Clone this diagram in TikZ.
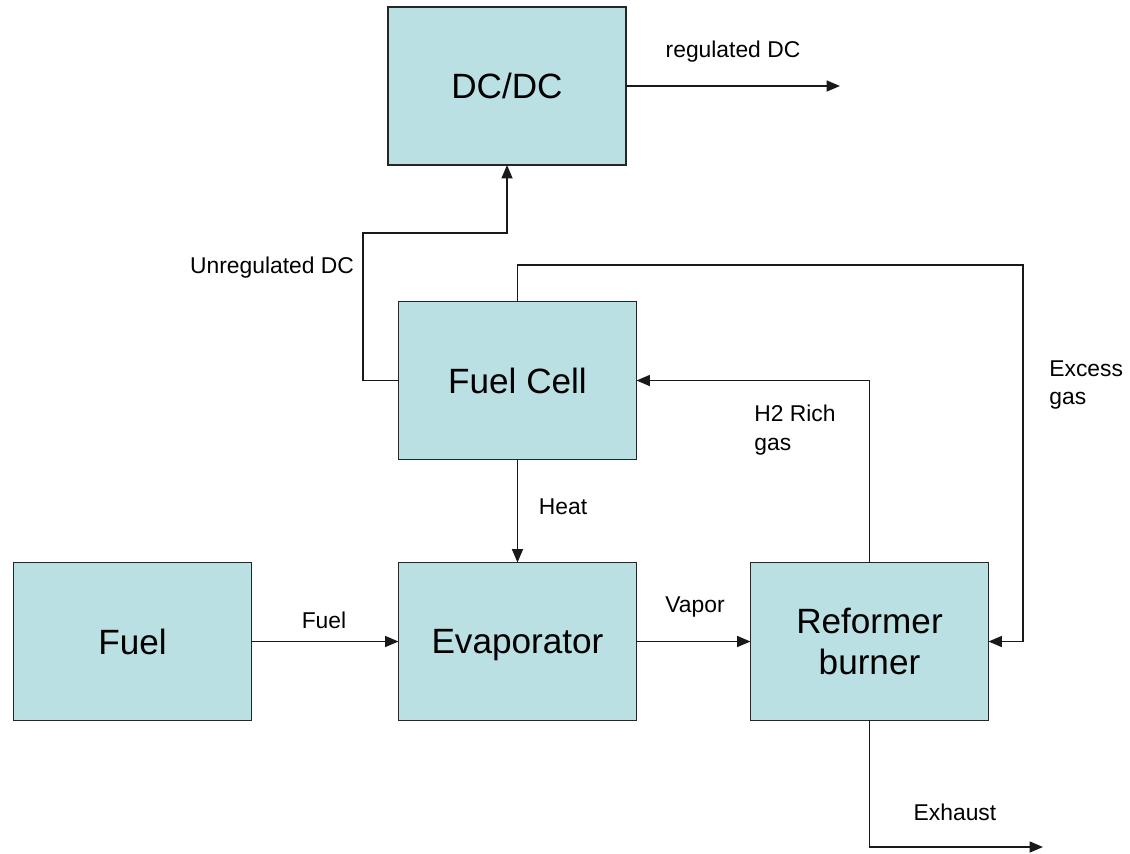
\documentclass[tikz,border=0pt]{standalone}
\usepackage{fontspec}
\setmainfont{Liberation Sans}
\usetikzlibrary{arrows.meta}
\definecolor{boxfill}{HTML}{BAE0E3}
\begin{document}
\begin{tikzpicture}[x=0.02cm,y=-0.02cm,
  block/.style={draw=black!85,fill=boxfill,line width=1pt,minimum width=4.76cm,minimum height=3.16cm,inner sep=0pt,outer sep=0pt,font=\fontsize{20}{24}\selectfont,align=center},
  conn/.style={draw=black!90,line width=1pt},
  arr/.style={conn,-{Triangle[length=0.27cm,width=0.22cm]}},
  lbl/.style={font=\fontsize{13}{16.4}\selectfont,inner sep=0pt,align=left}]
\useasboundingbox (0,0) rectangle (1130,853);
\node[block] (dcdc) at (507,86) {DC/DC};
\node[block] (fc) at (517.5,380.5) {Fuel Cell};
\node[block] (fuel) at (132.5,641.5) {Fuel};
\node[block,text depth=0pt] (evap) at (517.5,641.5) {Evaporator};
\node[block] (ref) at (869.5,641.5) {Reformer\\[-1pt]burner};
\coordinate (rout) at (840,86);
\coordinate (u1) at (363,233);
\coordinate (e1) at (1023,265);
\coordinate (ex) at (1043,847);
\draw[arr] (dcdc.east) -- (rout);
\draw[arr] (fc.west) -| (u1) -| (dcdc.south);
\draw[arr] (fc.north) |- (e1) |- (ref.east);
\draw[arr] (ref.north) |- (fc.east);
\draw[arr] (fc.south) -- (evap.north);
\draw[arr] (fuel.east) -- (evap.west);
\draw[arr] (evap.east) -- (ref.west);
\draw[arr] (ref.south) |- (ex);
\node[lbl] (l1) at (733,52) {regulated DC};
\node[lbl] (l2) at (272,268) {Unregulated DC};
\node[lbl,anchor=west] (l3) at (1049,385) {Excess\\gas};
\node[lbl,anchor=west] (l4) at (754,430) {H2 Rich\\gas};
\node[lbl] (l5) at (563,507) {Heat};
\node[lbl] (l6) at (324,620) {Fuel};
\node[lbl] (l7) at (695,607) {Vapor};
\node[lbl] (l8) at (955,812) {Exhaust};
\end{tikzpicture}
\end{document}
